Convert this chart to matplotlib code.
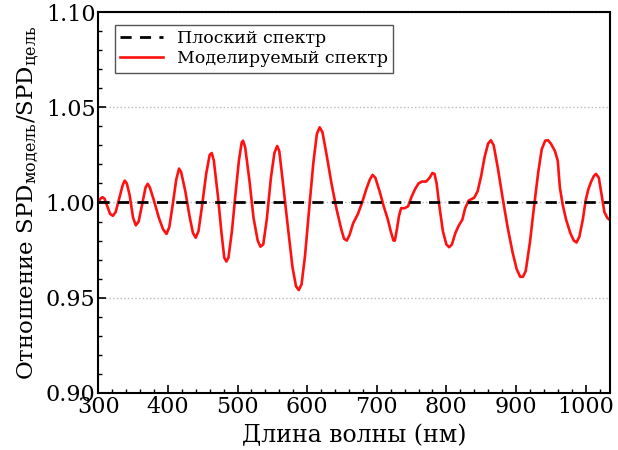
import numpy as np
import matplotlib
matplotlib.use("Agg")
import matplotlib.pyplot as plt
from matplotlib.ticker import MultipleLocator, FormatStrFormatter

plt.rcParams['font.family'] = ['DejaVu Serif']
plt.rcParams['mathtext.default'] = 'regular'

# wavelength (nm) and SPD ratio
wavelength = [300, 303, 306, 309, 313, 317, 321, 325, 330, 335, 338, 341, 345, 350,
              354, 358, 363, 368, 371, 374, 380, 387, 393, 398, 402, 407, 412, 416,
              419, 425, 431, 436, 440, 444, 449, 455, 460, 463, 466, 472, 477, 481,
              484, 487, 492, 497, 502, 506, 508, 511, 517, 523, 529, 533, 537, 542,
              548, 553, 557, 560, 566, 573, 579, 584, 588, 592, 597, 603, 609, 614,
              618, 622, 628, 635, 642, 649, 653, 657, 661, 666, 673, 679, 685, 690,
              694, 698, 704, 710, 716, 720, 724, 726, 729, 732, 735, 740, 745, 750,
              755, 760, 765, 771, 776, 780, 783, 786, 790, 795, 800, 804, 808, 813,
              818, 823, 827, 832, 840, 845, 850, 855, 860, 864, 868, 874, 881, 888,
              895, 901, 906, 910, 914, 920, 926, 932, 937, 942, 946, 950, 956, 960,
              963, 967, 972, 978, 983, 987, 991, 996, 1000, 1004, 1008, 1012, 1015,
              1019, 1023, 1027, 1031, 1034]
ratio = [1.000, 1.002, 1.0028, 1.002, 0.998, 0.994, 0.993, 0.995, 1.002, 1.009,
         1.0115, 1.010, 1.004, 0.992, 0.988, 0.990, 0.999, 1.008, 1.0098, 1.008,
         1.001, 0.992, 0.986, 0.9835, 0.987, 0.999, 1.012, 1.0178, 1.016, 1.006,
         0.993, 0.984, 0.9815, 0.985, 0.998, 1.015, 1.025, 1.026, 1.022, 1.003,
         0.984, 0.971, 0.969, 0.971, 0.985, 1.004, 1.022, 1.0315, 1.0325, 1.029,
         1.012, 0.992, 0.980, 0.9768, 0.978, 0.991, 1.013, 1.026, 1.0297, 1.027,
         1.008, 0.985, 0.966, 0.956, 0.954, 0.957, 0.972, 0.997, 1.021, 1.036,
         1.0395, 1.037, 1.025, 1.010, 0.997, 0.986, 0.981, 0.980, 0.983, 0.989,
         0.994, 1.000, 1.007, 1.012, 1.0145, 1.013, 1.006, 0.998, 0.991, 0.985,
         0.980, 0.980, 0.986, 0.993, 0.997, 0.997, 0.998, 1.003, 1.007, 1.010,
         1.011, 1.011, 1.013, 1.0155, 1.015, 1.010, 0.998, 0.985, 0.978, 0.9765,
         0.978, 0.984, 0.988, 0.991, 0.997, 1.001, 1.0025, 1.006, 1.014, 1.024,
         1.031, 1.0327, 1.030, 1.018, 1.002, 0.987, 0.974, 0.965, 0.961, 0.961,
         0.964, 0.979, 0.998, 1.016, 1.028, 1.0325, 1.0327, 1.031, 1.027, 1.022,
         1.008, 0.999, 0.991, 0.984, 0.980, 0.979, 0.982, 0.991, 1.001, 1.007,
         1.011, 1.014, 1.015, 1.013, 1.004, 0.995, 0.992, 0.991]

fig = plt.figure(figsize=(6.18, 4.5), dpi=100)
ax = fig.add_axes([0.159, 0.127, 0.828, 0.846])

ax.axhline(1.0, color='black', linestyle=(0, (4, 3)), linewidth=2,
           label='Плоский спектр', zorder=3)
ax.plot(wavelength, ratio, color='#ff1111', linewidth=1.9,
        label='Моделируемый спектр', zorder=2)

ax.set_xlim(300, 1035)
ax.set_ylim(0.90, 1.10)
ax.xaxis.set_major_locator(MultipleLocator(100))
ax.xaxis.set_minor_locator(MultipleLocator(20))
ax.yaxis.set_major_locator(MultipleLocator(0.05))
ax.yaxis.set_minor_locator(MultipleLocator(0.01))
ax.yaxis.set_major_formatter(FormatStrFormatter('%.2f'))
ax.tick_params(which='both', direction='in', labelsize=16, pad=2)
ax.tick_params(which='major', length=6, width=1.2)
ax.tick_params(which='minor', length=3, width=1)
ax.grid(axis='y', which='major', linestyle=':', color='#bbbbbb', linewidth=1)
for s in ax.spines.values():
    s.set_linewidth(1.5)

ax.set_xlabel('Длина волны (нм)', fontsize=17, labelpad=5)
ax.set_ylabel('Отношение SPD$_{модель}$/SPD$_{цель}$', fontsize=16.5, labelpad=3)

leg = ax.legend(loc='upper left', fontsize=12.5, fancybox=False, framealpha=1,
                edgecolor='#555555', handlelength=2.5, borderpad=0.3,
                labelspacing=0.2, bbox_to_anchor=(0.015, 0.99))
leg.get_frame().set_linewidth(1)

fig.savefig('out.png', dpi=100)
